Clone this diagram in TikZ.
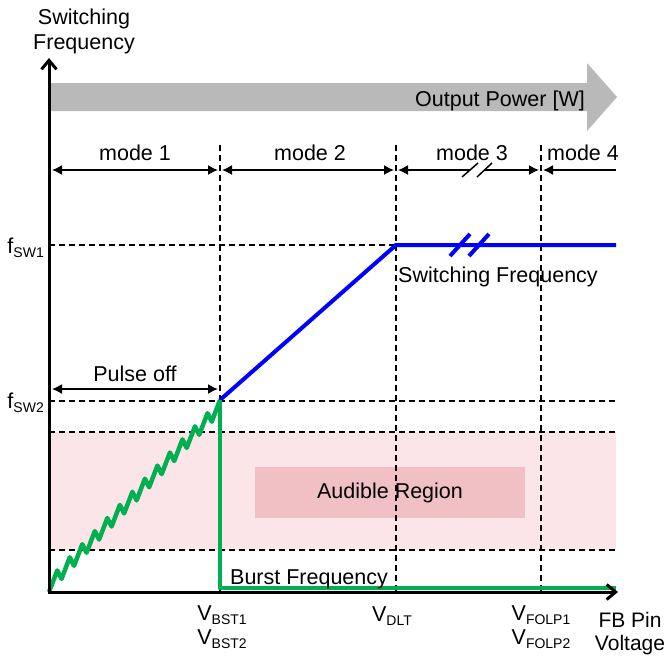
\documentclass[tikz,border=0pt]{standalone}
\usepackage{fontspec}
\setmainfont{Liberation Sans}
\usetikzlibrary{arrows.meta, positioning}
\definecolor{audiblebg}{RGB}{251,229,232}
\definecolor{audiblebox}{RGB}{240,192,196}
\definecolor{powergray}{RGB}{185,185,185}
\definecolor{burstgreen}{RGB}{0,176,80}
\newcommand{\lowsub}[1]{\raisebox{-4pt}{\fontsize{14}{14}\selectfont #1}}
\tikzset{
    lbl/.style={font=\fontsize{21.5}{24}\selectfont, inner sep=0pt, align=center},
    axis/.style={line width=3pt, -{Straight Barb[length=9pt,width=15pt]}},
    guide/.style={line width=1.5pt, dash pattern=on 6pt off 4pt},
    span/.style={line width=1.5pt, {Latex[length=10pt,width=10pt]}-{Latex[length=10pt,width=10pt]}},
    halfspan/.style={line width=1.5pt, -{Latex[length=10pt,width=10pt]}},
    breakmark/.style={line width=1.5pt},
    fswline/.style={line width=4pt, blue},
    burstline/.style={line width=4.5pt, burstgreen, line join=round},
}

\begin{document}
\begin{tikzpicture}[x=1pt, y=-1pt]
    \useasboundingbox (0,0) rectangle (668,659);
    \coordinate (O) at (49,592);
    \coordinate (ytip) at (49,58);
    \coordinate (xtip) at (618,592);
    \coordinate (bst) at (220,400);
    \coordinate (dlt) at (396,245);
    \coordinate (fswend) at (616,245);
    \coordinate (bstlow) at (220,588);
    \coordinate (burstend) at (616,588);

    % audible band
    \fill[audiblebg] (49,432) rectangle (616,550);
    \fill[audiblebox] (255,467) rectangle (525,518);
    \node[lbl] (audible) at (390,493) {Audible Region};

    % output power arrow
    \fill[powergray] (50,83) -- (587,83) -- (587,63) -- (617,97) -- (587,131)
        -- (587,111) -- (50,111) -- cycle;
    \node[lbl, anchor=base east] (power) at (585,106) {Output Power [W]};

    % guides
    \foreach \xv in {220,396,541}
        \draw[guide] (\xv,145) -- (\xv,592);
    \draw[guide] (49,245) -- (dlt);
    \foreach \yv in {401,432,550}
        \draw[guide] (49,\yv) -- (616,\yv);

    % modes
    \draw[span] (52,170) -- (218,170);
    \draw[span] (222,170) -- (394,170);
    \draw[halfspan] (470,170) -- (398,170);
    \draw[halfspan] (484,170) -- (539,170);
    \draw[halfspan] (616,170) -- (543,170);
    \draw[breakmark] (462,177) -- (478,163);
    \draw[breakmark] (477,177) -- (492,163);
    \node[lbl, anchor=base] (m1) at (135,160) {mode 1};
    \node[lbl, anchor=base] (m2) at (310,160) {mode 2};
    \node[lbl, anchor=base] (m3) at (472,160) {mode 3};
    \node[lbl, anchor=base] (m4) at (583,160) {mode 4};

    % pulse off
    \draw[span] (52,389) -- (218,389);
    \node[lbl, anchor=base] (pulse) at (135,381) {Pulse off};

    % switching frequency
    \draw[fswline] (bst) -- (dlt) -- (fswend);
    \draw[fswline] (450,256) -- (470,234);
    \draw[fswline] (469,256) -- (489,234);
    \node[lbl, anchor=base west] (fswlbl) at (398,282) {Switching Frequency};

    % burst frequency
    \draw[burstline] (O) \foreach \i in {1,...,13} { -- ++(8.26,-21.6) -- ++(4.26,8.5) }
        -- (bst);
    \draw[burstline] (bst) -- (bstlow) -- (burstend);
    \node[lbl, anchor=base west] (burstlbl) at (230,584) {Burst Frequency};

    % axes
    \draw[axis] (O) -- (ytip);
    \draw[axis] ([xshift=-1.5pt]O) -- (xtip);
    \node[lbl, anchor=north, font=\fontsize{21.5}{25}\selectfont] (ylbl) at (84,9) {Switching\\Frequency};
    \node[lbl, anchor=north, font=\fontsize{21}{23}\selectfont] (xlbl) at (630,612) {FB Pin\\Voltage};
    \node[lbl, anchor=base east] (fsw1) at (44,253) {f\lowsub{SW1}};
    \node[lbl, anchor=base east] (fsw2) at (44,408) {f\lowsub{SW2}};
    \node[lbl, anchor=north] (vbst) at (222,605) {V\lowsub{BST1}\\V\lowsub{BST2}};
    \node[lbl, anchor=base] (vdlt) at (392,621) {V\lowsub{DLT}};
    \node[lbl, anchor=north] (vfolp) at (541,605) {V\lowsub{FOLP1}\\V\lowsub{FOLP2}};
\end{tikzpicture}
\end{document}
